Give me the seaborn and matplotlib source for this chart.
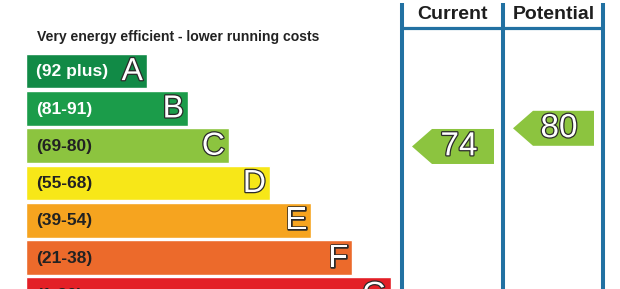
import matplotlib
matplotlib.use("Agg")
import matplotlib.pyplot as plt
import matplotlib.patheffects as pe
from matplotlib.patches import Polygon
import seaborn as sns
import pandas as pd

# ---- data ----
bands = ["A", "B", "C", "D", "E", "F", "G"]
band_ranges = ["(92 plus)", "(81-91)", "(69-80)", "(55-68)", "(39-54)", "(21-38)", "(1-20)"]
bar_lengths = [121, 162, 203, 244, 285, 326, 365]
band_colors = ["#118a46", "#1b9c4a", "#8cc43f", "#f7e718", "#f6a41f", "#ec6a2b", "#e31f26"]
range_text_colors = ["white", "white", "#222222", "#222222", "#222222", "#222222", "#222222"]
column_titles = ["Current", "Potential"]
scores = [74, 80]
score_color = "#8cc43f"
header_text = "Very energy efficient - lower running costs"

sns.set_style("white")
plt.rcParams["font.family"] = ["Liberation Sans", "DejaVu Sans"]

W, H = 620, 289
fig = plt.figure(figsize=(W / 100, H / 100), dpi=100)
fig.patch.set_facecolor("white")

# bars axis: x in pixels (offset), y in row units
x0 = 26
pitch = 37.3
row0 = 71
ax = fig.add_axes([0, 0, 1, 1])
df = pd.DataFrame({"band": bands, "length": bar_lengths})
sns.barplot(data=df, x="length", y="band", hue="band", palette=band_colors,
            orient="h", width=0.93, saturation=1, legend=False, ax=ax)
ax.set_xlim(-x0, W - x0)
ax.set_ylim((H - row0) / pitch, -row0 / pitch)
ax.axis("off")

stroke = [pe.withStroke(linewidth=1.8, foreground="#2a2a2a")]
for i, (b, r, L, tc) in enumerate(zip(bands, band_ranges, bar_lengths, range_text_colors)):
    ax.text(10.5, i + 0.02, r, color=tc, fontsize=12.5, fontweight="bold",
            ha="left", va="center")
    ax.text(L - 4, i + 0.03, b, color="white", fontsize=23, ha="right",
            va="center", path_effects=stroke)
ax.text(10.7, (37 - row0) / pitch, header_text, color="#222222", fontsize=10.1,
        fontweight="bold", ha="left", va="center")

# panel frame in pixel coordinates
axp = fig.add_axes([0, 0, 1, 1])
axp.set_xlim(0, W)
axp.set_ylim(H, 0)
axp.axis("off")
line_color = "#2271a2"
col_x = [402, 503, 603]
axp.vlines(col_x, 3, H, color=line_color, linewidth=2.9)
axp.hlines(28, col_x[0], col_x[-1], color=line_color, linewidth=2.3)
for t, xl, xr in zip(column_titles, col_x[:-1], col_x[1:]):
    axp.text((xl + xr) / 2 + 0.5, 14.5, t, color="#1e1e1e", fontsize=14,
             fontweight="bold", ha="center", va="center")

# score arrows: y in score units
px_per_pt = 3.03
y_ref_px, v_ref = 128.3, 80
axs = fig.add_axes([0, 0, 1, 1])
axs.set_xlim(0, W)
axs.set_ylim(v_ref - (H - y_ref_px) / px_per_pt, v_ref + y_ref_px / px_per_pt)
axs.axis("off")
half = 35 / px_per_pt / 2
for s, xl, xr in zip(scores, col_x[:-1], col_x[1:]):
    tip, body, right = xl + 10, xl + 30, xr - 9
    poly = Polygon([(tip, s), (body, s + half), (right, s + half),
                    (right, s - half), (body, s - half)], closed=True,
                   facecolor=score_color, edgecolor="none")
    axs.add_patch(poly)
    axs.text(right - 35, s - 0.1, str(s), color="white", fontsize=24,
             ha="center", va="center", path_effects=stroke)

fig.savefig("out.png", dpi=100)
